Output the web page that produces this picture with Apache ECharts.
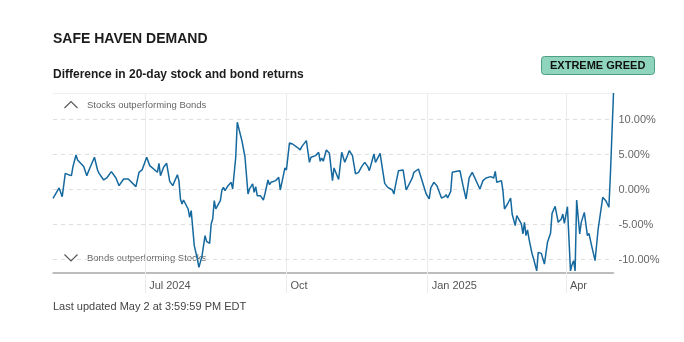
<!DOCTYPE html>
<html>
<head>
<meta charset="utf-8">
<script src="https://cdn.jsdelivr.net/npm/echarts@6/dist/echarts.min.js"></script>
<style>
html,body{margin:0;padding:0;background:#fff;}
#chart{width:684px;height:342px;}
</style>
</head>
<body>
<div id="chart"></div>
<script>
const dates = [
'2024-05-02','2024-05-06','2024-05-08','2024-05-10','2024-05-12','2024-05-14','2024-05-15','2024-05-17','2024-05-18','2024-05-22','2024-05-24','2024-05-26','2024-05-29','2024-05-31','2024-06-01','2024-06-04','2024-06-06','2024-06-09','2024-06-12','2024-06-14','2024-06-17','2024-06-20','2024-06-21','2024-06-25','2024-06-27','2024-06-29',
'2024-07-02','2024-07-04','2024-07-05','2024-07-09','2024-07-10','2024-07-11','2024-07-13','2024-07-15','2024-07-17','2024-07-19','2024-07-22','2024-07-23','2024-07-24','2024-07-25','2024-07-26','2024-07-29','2024-07-30','2024-07-31',
'2024-08-02','2024-08-04','2024-08-05','2024-08-07','2024-08-09','2024-08-10','2024-08-12','2024-08-13','2024-08-14','2024-08-15','2024-08-16','2024-08-19','2024-08-20','2024-08-21','2024-08-22','2024-08-24','2024-08-26','2024-08-27','2024-08-29','2024-08-30',
'2024-09-02','2024-09-04','2024-09-06','2024-09-07','2024-09-09','2024-09-10','2024-09-11','2024-09-12','2024-09-14','2024-09-16','2024-09-17','2024-09-18','2024-09-19','2024-09-20','2024-09-21','2024-09-24','2024-09-26','2024-09-27','2024-09-29','2024-09-30',
'2024-10-01','2024-10-03','2024-10-05','2024-10-08','2024-10-10','2024-10-11','2024-10-14','2024-10-16','2024-10-17','2024-10-20','2024-10-22','2024-10-23','2024-10-24','2024-10-25','2024-10-27','2024-10-29','2024-10-31',
'2024-11-01','2024-11-04','2024-11-06','2024-11-08','2024-11-11','2024-11-13','2024-11-15','2024-11-17','2024-11-19','2024-11-21','2024-11-23','2024-11-24','2024-11-27','2024-11-28',
'2024-12-01','2024-12-04','2024-12-06','2024-12-09','2024-12-10','2024-12-11','2024-12-13','2024-12-16','2024-12-18','2024-12-19','2024-12-22','2024-12-23','2024-12-26','2024-12-28','2024-12-31',
'2025-01-02','2025-01-03','2025-01-05','2025-01-07','2025-01-08','2025-01-10','2025-01-12','2025-01-13','2025-01-14','2025-01-16','2025-01-17','2025-01-20','2025-01-22','2025-01-24','2025-01-26','2025-01-28','2025-01-30','2025-01-31',
'2025-02-04','2025-02-06','2025-02-08','2025-02-11','2025-02-12','2025-02-13','2025-02-14','2025-02-15','2025-02-16','2025-02-18','2025-02-19','2025-02-20','2025-02-22','2025-02-24','2025-02-25','2025-02-26','2025-02-27','2025-02-28',
'2025-03-03','2025-03-04','2025-03-05','2025-03-06','2025-03-07','2025-03-08','2025-03-10','2025-03-11','2025-03-12','2025-03-13','2025-03-14','2025-03-16','2025-03-18','2025-03-20','2025-03-22','2025-03-23','2025-03-25','2025-03-27','2025-03-29','2025-03-30','2025-03-31',
'2025-04-02','2025-04-04','2025-04-05','2025-04-06','2025-04-07','2025-04-08','2025-04-10','2025-04-11','2025-04-13','2025-04-15','2025-04-16','2025-04-18','2025-04-20','2025-04-22','2025-04-25','2025-04-27','2025-04-28','2025-04-29','2025-04-30','2025-05-02'
];
const values = [
-1.24, 0.24, -1.0, 2.33, 2.14, 2.0, 3.29, 4.95, 4.24, 3.29, 2.0, 3.1, 4.62, 2.81, 2.33, 1.38, 1.67, 2.57, 1.67, 0.57, 1.52, 1.52, 1.67, 0.43, 2.48, 2.81,
4.62, 3.43, 3.43, 2.48, 3.76, 2.0, 3.19, 3.76, 1.19, 0.57, 2.14, 1.29, -1.33, -2.05, -1.48, -2.76, -3.95, -3.0,
-8.0, -9.9, -11.1, -9.52, -6.57, -7.38, -7.67, -4.9, -4.19, -1.57, -2.76, -1.57, -0.05, 0.33, -0.14, 0.57, 1.05, 0.1, 4.62, 9.62,
7.0, 4.7, -0.62, 0.1, 0.81, -0.38, 0.43, -0.86, -0.86, -1.48, -0.62, -0.71, 1.38, 0.71, 1.05, 1.29, 1.76, -0.05, 2.0, 3.1,
2.81, 6.67, 6.52, 6.05, 5.67, 6.14, 7.0, 3.9, 4.62, 4.86, 5.33, 4.05, 4.52, 4.05, 5.67, 5.19, 1.29,
3.1, 1.45, 5.33, 3.9, 5.57, 4.86, 2.24, 2.48, 3.29, 3.9, 3.29, 2.71, 5.1, 3.9,
5.19, 0.9, 0.33, -0.05, -0.62, 0.57, 2.71, 2.81, -0.05, -0.24, 1.67, 2.48, 2.95, 1.52, -0.62,
-1.33, 0.24, 1.05, 0.57, 0.43, -1.19, -1.0, -0.71, -1.19, -0.24, 2.48, 2.62, 2.71, 0.57, -1.33, 1.67, 2.48, 2.0,
0.1, 1.29, 1.67, 1.86, 2.14, 1.67, 2.62, 1.05, 1.29, 1.29, -0.14, -2.76, -2.05, -1.19, -3.48, -3.38, -5.14, -3.71,
-4.9, -6.33, -4.67, -6.57, -5.76, -7.05, -9.19, -9.9, -10.14, -11.6, -8.95, -9.1, -10.62, -7.52, -6.24, -3.38, -2.38, -4.67, -4.19, -3.48, -4.81,
-2.43, -11.6, -10.71, -10.14, -11.6, -1.48, -6.33, -4.67, -3.24, -6.57, -6.24, -8.24, -10.14, -5.62, -1.1, -1.57, -2.05, -2.52, 2.24, 13.8
];
const yTicks = [-10, -5, 0, 5, 10];
const xTicks = ['2024-07-01', '2024-10-01', '2025-01-01', '2025-04-01'];
const xTickLabels = ['Jul 2024', 'Oct', 'Jan 2025', 'Apr'];
const yMin = -11.9;
const yMax = 13.8;

const FONT = '"Liberation Sans", Arial, sans-serif';
const toTime = d => +new Date(d + 'T00:00:00Z');
const xTickTimes = xTicks.map(toTime);
const seriesData = dates.map((d, i) => [toTime(d), values[i]]);

const chart = echarts.init(document.getElementById('chart'), null, {renderer: 'canvas'});

const markLines = [];
yTicks.forEach(v => markLines.push({yAxis: v, lineStyle: {color: '#dedede', type: [4, 4], width: 1}}));
xTickTimes.forEach(t => markLines.push({xAxis: t, lineStyle: {color: '#ebebeb', type: 'solid', width: 1}}));
markLines.push({yAxis: yMax, lineStyle: {color: '#efefef', type: 'solid', width: 1}});

chart.setOption({
  animation: false,
  backgroundColor: '#fff',
  title: [
    {text: 'SAFE HAVEN DEMAND', left: 53, top: 32, padding: 0,
     textStyle: {fontFamily: FONT, fontSize: 14, fontWeight: 'bold', color: '#1c1c1c'}},
    {text: 'Difference in 20-day stock and bond returns', left: 53, top: 69, padding: 0,
     textStyle: {fontFamily: FONT, fontSize: 12, fontWeight: 'bold', color: '#1c1c1c'}},
    {text: 'EXTREME GREED', left: 541, top: 56, padding: [4, 9, 3, 9],
     backgroundColor: '#8fd5be', borderColor: '#4f9f83', borderWidth: 1, borderRadius: 3,
     textStyle: {fontFamily: FONT, fontSize: 11, fontWeight: 'bold', color: '#111', lineHeight: 12}},
    {text: 'Last updated May 2 at 3:59:59 PM EDT', left: 53, top: 301, padding: 0,
     textStyle: {fontFamily: FONT, fontSize: 11, fontWeight: 'normal', color: '#444'}}
  ],
  grid: {left: 53, right: 70.5, top: 93, bottom: 69, containLabel: false},
  xAxis: {
    type: 'value',
    min: toTime(dates[0]),
    max: toTime(dates[dates.length - 1]),
    axisLine: {show: true, onZero: false, lineStyle: {color: '#a8a8a8', width: 1.5}},
    axisTick: {show: true, customValues: xTickTimes, length: 20, inside: false,
               lineStyle: {color: '#ebebeb', width: 1}},
    axisLabel: {
      customValues: xTickTimes, margin: 7, align: 'left', padding: [0, 0, 0, 4],
      fontFamily: FONT, fontSize: 11, color: '#555',
      formatter: v => { const i = xTickTimes.indexOf(v); return i >= 0 ? xTickLabels[i] : ''; }
    },
    splitLine: {show: false}
  },
  yAxis: {
    type: 'value',
    position: 'right',
    min: yMin,
    max: yMax,
    axisLine: {show: false},
    axisTick: {show: false},
    splitLine: {show: false},
    axisLabel: {
      customValues: yTicks, margin: 5, fontFamily: FONT, fontSize: 11, color: '#666',
      formatter: v => v.toFixed(2) + '%'
    }
  },
  series: [{
    type: 'line',
    data: seriesData,
    showSymbol: false,
    symbol: 'none',
    lineStyle: {color: '#15699e', width: 1.5},
    clip: false,
    z: 3,
    markLine: {
      silent: true, symbol: ['none', 'none'], label: {show: false}, z: 1,
      data: markLines
    }
  }],
  graphic: [
    {type: 'polyline', shape: {points: [[64.5, 108], [71, 101.5], [77.5, 108]]},
     style: {stroke: '#555', lineWidth: 1.1, fill: null}, z: 10},
    {type: 'text', left: 87, top: 100, style: {text: 'Stocks outperforming Bonds', fontFamily: FONT, fontSize: 9.5, fill: '#666'}},
    {type: 'polyline', shape: {points: [[64.5, 254.5], [71, 261], [77.5, 254.5]]},
     style: {stroke: '#555', lineWidth: 1.1, fill: null}, z: 10},
    {type: 'text', left: 87, top: 253, style: {text: 'Bonds outperforming Stocks', fontFamily: FONT, fontSize: 9.5, fill: '#666'}}
  ]
});
</script>
</body>
</html>
